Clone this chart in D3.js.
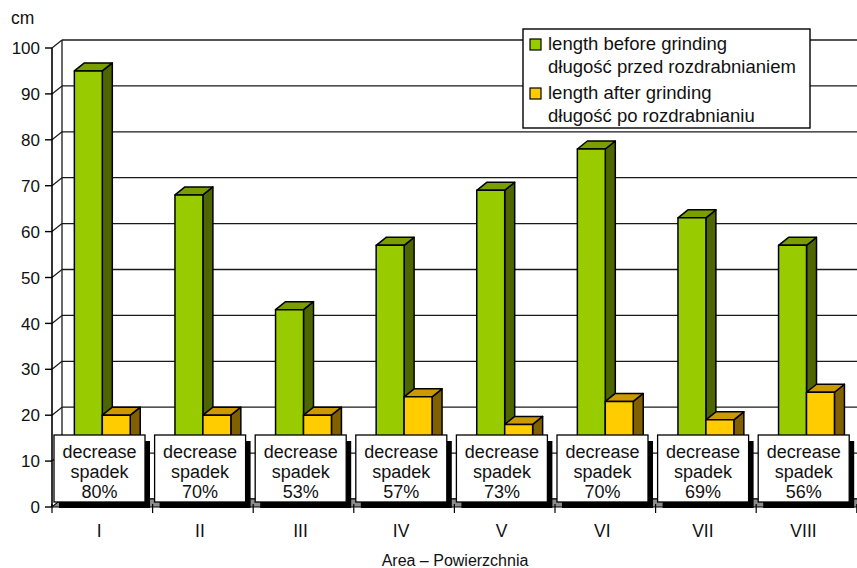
<!DOCTYPE html>
<html>
<head>
<meta charset="utf-8">
<script src="https://cdn.jsdelivr.net/npm/d3@7"></script>
<style>
  body { margin: 0; background: #fff; }
  svg { display: block; font-family: Arial, "Liberation Sans", Helvetica, sans-serif; }
</style>
</head>
<body>
<svg id="chart" width="857" height="568"></svg>
<script>
// Areas (categories) and measured lengths in cm
const areas = ["I", "II", "III", "IV", "V", "VI", "VII", "VIII"];
const lengthBefore = [95, 68, 43, 57, 69, 78, 63, 57];
const lengthAfter = [20, 20, 20, 24, 18, 23, 19, 25];
const decreaseLabels = ["80%", "70%", "53%", "57%", "73%", "70%", "69%", "56%"];
const yTicks = [0, 10, 20, 30, 40, 50, 60, 70, 80, 90, 100];
const seriesNames = [
  ["length before grinding", "długość przed rozdrabnianiem"],
  ["length after grinding", "długość po rozdrabnianiu"]
];

const svg = d3.select("#chart");

// 3D geometry
const left = 52, bottom = 507, topY = 48;
const step = 100.6;
const dx = 10, dy = -8;

const x = d3.scaleBand().domain(areas).range([left, left + step * areas.length]).paddingInner(0).paddingOuter(0);
const xs = d3.scaleBand().domain([0, 1]).range([0, x.bandwidth()]).paddingInner(0).paddingOuter(0.8);
const y = d3.scaleLinear().domain([0, 100]).range([bottom, topY]);

const faces = [
  { front: "#99cc00", top: "#7a9e00", side: "#4d6600" },
  { front: "#ffcc00", top: "#cc9900", side: "#806000" }
];

const right = x.range()[1];

// back wall
svg.append("path")
  .attr("d", `M${left + dx},${y(100) + dy}H${right + dx}V${y(0) + dy}H${left + dx}Z`)
  .attr("fill", "#fff");

// gridlines on the back wall and side wall
const grid = svg.append("g").attr("stroke", "#1a1a1a").attr("stroke-width", 1.3).attr("fill", "none");
yTicks.forEach(t => {
  grid.append("line").attr("x1", left + dx).attr("x2", right + dx)
    .attr("y1", y(t) + dy).attr("y2", y(t) + dy);
  grid.append("line").attr("x1", left).attr("x2", left + dx)
    .attr("y1", y(t)).attr("y2", y(t) + dy);
});
grid.append("line").attr("x1", left + dx).attr("x2", left + dx)
  .attr("y1", y(100) + dy).attr("y2", y(0) + dy);

// floor
svg.append("path")
  .attr("d", `M${left},${y(0)}L${left + dx},${y(0) + dy}H${right + dx}L${right},${y(0)}Z`)
  .attr("fill", "#8c8c8c").attr("stroke", "#000").attr("stroke-width", 1);

// bars
const bars = svg.append("g").attr("stroke", "#000").attr("stroke-width", 1.5).attr("stroke-linejoin", "round");
areas.forEach((a, i) => {
  [lengthBefore[i], lengthAfter[i]].forEach((v, s) => {
    const x0 = x(a) + xs(s), x1 = x0 + xs.bandwidth();
    const yt = y(v), yb = y(0);
    const f = faces[s];
    bars.append("path").attr("fill", f.side)
      .attr("d", `M${x1},${yt}L${x1 + dx},${yt + dy}V${yb + dy}L${x1},${yb}Z`);
    bars.append("path").attr("fill", f.top)
      .attr("d", `M${x0},${yt}L${x0 + dx},${yt + dy}H${x1 + dx}L${x1},${yt}Z`);
    bars.append("rect").attr("fill", f.front)
      .attr("x", x0).attr("y", yt).attr("width", x1 - x0).attr("height", yb - yt);
  });
});

// decrease boxes with drop shadows
const boxW = 91, boxH = 67, boxTop = 435;
const boxes = svg.append("g");
areas.forEach((a, i) => {
  const bx = x(a) + 2;
  boxes.append("rect").attr("x", bx + 5).attr("y", boxTop + 6)
    .attr("width", boxW).attr("height", boxH).attr("fill", "#000");
  boxes.append("rect").attr("x", bx).attr("y", boxTop)
    .attr("width", boxW).attr("height", boxH)
    .attr("fill", "#fff").attr("stroke", "#000").attr("stroke-width", 1.3);
  const t = boxes.append("text").attr("text-anchor", "middle")
    .attr("font-size", 18).attr("fill", "#111");
  ["decrease", "spadek", decreaseLabels[i]].forEach((line, k) => {
    t.append("tspan").attr("x", bx + boxW / 2).attr("y", boxTop + 23 + k * 20).text(line);
  });
});

// y axis
svg.append("line").attr("x1", left).attr("x2", left).attr("y1", y(100)).attr("y2", y(0))
  .attr("stroke", "#000").attr("stroke-width", 1.6);
const yAxis = svg.append("g");
yTicks.forEach(t => {
  yAxis.append("line").attr("x1", left - 7).attr("x2", left).attr("y1", y(t)).attr("y2", y(t))
    .attr("stroke", "#000").attr("stroke-width", 1.4);
  yAxis.append("text").attr("x", left - 12).attr("y", y(t)).attr("dy", "0.36em")
    .attr("text-anchor", "end").attr("font-size", 17).attr("fill", "#111").text(t);
});
svg.append("text").attr("x", 11).attr("y", 24).attr("font-size", 17.5).attr("fill", "#111").text("cm");

// x axis ticks and labels
const xAxis = svg.append("g");
d3.range(areas.length + 1).forEach(k => {
  const px = left + k * step;
  xAxis.append("line").attr("x1", px).attr("x2", px).attr("y1", y(0) - 3).attr("y2", y(0) + 6)
    .attr("stroke", "#000").attr("stroke-width", 1.2);
});
areas.forEach(a => {
  xAxis.append("text").attr("x", x(a) + x.bandwidth() / 2 - 3).attr("y", 537)
    .attr("text-anchor", "middle").attr("font-size", 17.5).attr("fill", "#111").text(a);
});
svg.append("text").attr("x", 455).attr("y", 566).attr("text-anchor", "middle")
  .attr("font-size", 16).attr("fill", "#111").text("Area – Powierzchnia");

// legend
const lg = svg.append("g");
lg.append("rect").attr("x", 523).attr("y", 29).attr("width", 287).attr("height", 99)
  .attr("fill", "#fff").attr("stroke", "#000").attr("stroke-width", 1.4);
seriesNames.forEach((names, s) => {
  const ly = 39 + s * 49;
  lg.append("rect").attr("x", 530).attr("y", ly).attr("width", 11).attr("height", 11)
    .attr("fill", faces[s].front).attr("stroke", "#000").attr("stroke-width", 1.2);
  const t = lg.append("text").attr("font-size", 18.5).attr("fill", "#111");
  t.append("tspan").attr("x", 548).attr("y", ly + 11).text(names[0]);
  t.append("tspan").attr("x", 548).attr("y", ly + 34).text(names[1]);
});
</script>
</body>
</html>
